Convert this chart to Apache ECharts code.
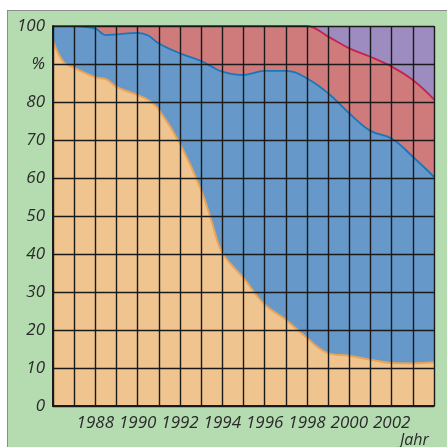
<!DOCTYPE html>
<html>
<head>
<meta charset="utf-8">
<script src="https://cdn.jsdelivr.net/npm/echarts@6/dist/echarts.min.js"></script>
<style>
html,body{margin:0;padding:0;background:#fff;overflow:hidden;}
#wrap{position:relative;width:447px;height:447px;overflow:hidden;}
#frame{position:absolute;left:7px;top:10px;width:460px;height:460px;background:#b5dcb0;border:1px solid #8c8c8c;box-sizing:border-box;}
#c{position:absolute;left:0;top:0;width:447px;height:447px;}
</style>
</head>
<body>
<div id="wrap"><div id="frame"></div><div id="c"></div></div>
<script>
// Years (x positions of read points)
var years = [1986, 1986.5, 1987, 1988, 1988.5, 1989, 1990, 1990.5, 1991, 1992, 1993, 1993.5, 1994, 1995, 1996, 1997, 1998, 1999, 2000, 2001, 2002, 2003, 2004];
// Cumulative upper boundaries (percent)
var under2400 = [96, 90.5, 89, 86.5, 86, 84, 81.8, 80.5, 78, 69, 56.8, 48.5, 40.3, 33.7, 26.7, 22.7, 17.9, 13.9, 13.2, 12.2, 11.3, 11.2, 11.5];
var upTo3600  = [100, 100, 100, 99.3, 97.6, 97.8, 98.2, 97.5, 95.4, 92.8, 90.8, 89.3, 88, 87.1, 88.2, 88.2, 86.2, 82.3, 77, 72.4, 70.4, 65.6, 60.3];
var upTo4500  = [100, 100, 100, 100, 100, 100, 100, 100, 100, 100, 100, 100, 100, 100, 100, 100, 100, 97.2, 94.1, 91.9, 89.3, 85.8, 80.7];
var total     = [100, 100, 100, 100, 100, 100, 100, 100, 100, 100, 100, 100, 100, 100, 100, 100, 100, 100, 100, 100, 100, 100, 100];
var xTickLabels = [1988, 1990, 1992, 1994, 1996, 1998, 2000, 2002];
var yTickLabels = {100:'100', 90:'%', 80:'80', 70:'70', 60:'60', 50:'50', 40:'40', 30:'30', 20:'20', 10:'10', 0:'0'};
var classLabels = ['< 2400kg', '2400 \u2026 3600kg', '3600 \u2026 4500kg', '> 4500kg'];

function pairs(arr){ return years.map(function(y,i){ return [y, arr[i]]; }); }

var font = 'Open Sans';
var fills = ['#f0c48e', '#6699c9', '#cf7b7c', '#9c8cbf'];
// label boxes: [left, top, width]
var boxes = [[100, 264, 74], [268, 186, 121], [202, 37, 121], [357, 29, 75]];
var chart = echarts.init(document.getElementById('c'));
function ser(name, arr, fill, line, lw){
  return {
    name: name, type: 'line', data: pairs(arr), smooth: 0.4,
    symbol: 'none', lineStyle: {color: line, width: lw},
    areaStyle: {color: fill, opacity: 1}, z: 2
  };
}
var elements = [];
boxes.forEach(function(b, i){
  elements.push({type: 'rect', shape: {x: b[0], y: b[1] + 3, width: b[2], height: 19}, style: {fill: fills[i]}});
});
boxes.forEach(function(b, i){
  elements.push({type: 'text', x: b[0] + 2, y: b[1], style: {text: classLabels[i], font: 'italic 17px "Open Sans"', fill: '#2a2a2a'}});
});
elements.push({type: 'text', x: 400, y: 432, style: {text: 'Jahr', font: 'italic 16px "Open Sans"', fill: '#2a2a2a'}});

chart.setOption({
  animation: false,
  backgroundColor: 'transparent',
  graphic: {z: 100, elements: elements},
  grid: {left: 53, top: 26, right: 13, bottom: 41, show: false},
  xAxis: {
    type: 'value', min: 1986, max: 2004, interval: 1, z: 10,
    axisLine: {show: true, lineStyle: {color: '#1a1a1a', width: 2}},
    axisTick: {show: false},
    splitLine: {show: true, lineStyle: {color: '#1a1a1a', width: 1.4}},
    axisLabel: {
      margin: 9, color: '#2a2a2a', fontStyle: 'italic', fontSize: 17, fontFamily: font,
      formatter: function(v){ return xTickLabels.indexOf(v) >= 0 ? String(v) : ''; }
    }
  },
  yAxis: {
    type: 'value', min: 0, max: 100, interval: 10, z: 10,
    axisLine: {show: true, lineStyle: {color: '#1a1a1a', width: 2}},
    axisTick: {show: false},
    splitLine: {show: true, lineStyle: {color: '#1a1a1a', width: 1.4}},
    axisLabel: {
      margin: 8, color: '#2a2a2a', fontStyle: 'italic', fontSize: 17, fontFamily: font,
      formatter: function(v){ return yTickLabels[v] !== undefined ? yTickLabels[v] : ''; }
    }
  },
  series: [
    ser('> 4500kg', total, fills[3], fills[3], 0),
    ser('3600 … 4500kg', upTo4500, fills[2], '#c8234e', 1.8),
    ser('2400 … 3600kg', upTo3600, fills[1], '#1777bd', 1.8),
    ser('< 2400kg', under2400, fills[0], '#eaa457', 2)
  ]
});
</script>
</body>
</html>
